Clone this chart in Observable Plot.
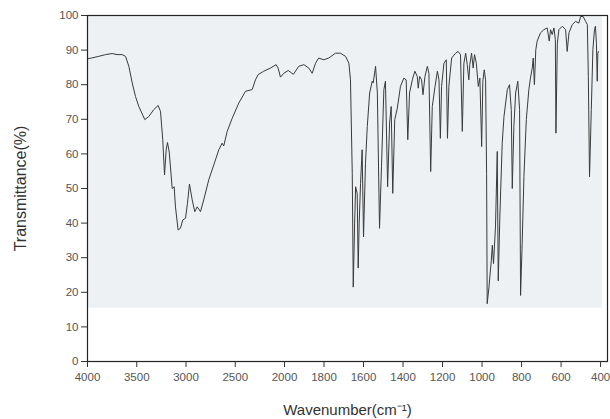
<!DOCTYPE html>
<html><head><meta charset="utf-8">
<script src="https://cdn.jsdelivr.net/npm/d3@7"></script>
<script src="https://cdn.jsdelivr.net/npm/@observablehq/plot@0.6"></script>
<style>body{margin:0;background:#fff;}</style>
</head><body><div id="chart"></div>
<script>
const wavenumbers = [4000,3960,3885,3817,3750,3700,3648,3614,3580,3546,3513,3479,3418,3378,3327,3283,3259,3236,3218,3201,3188,3170,3140,3120,3107,3080,3056,3033,3005,2985,2965,2937,2911,2887,2853,2820,2769,2718,2667,2633,2617,2582,2531,2464,2396,2328,2295,2268,2211,2143,2085,2065,2041,2007,1981,1955,1928,1902,1877,1860,1843,1827,1801,1776,1742,1717,1691,1674,1666,1657,1652,1645,1640,1632,1627,1622,1615,1607,1600,1590,1581,1569,1556,1551,1539,1530,1525,1519,1509,1497,1489,1478,1468,1460,1452,1442,1429,1413,1396,1384,1376,1367,1353,1340,1328,1323,1316,1306,1299,1289,1277,1269,1260,1252,1238,1226,1218,1211,1205,1193,1181,1175,1168,1154,1134,1121,1109,1100,1092,1083,1075,1067,1062,1053,1045,1038,1029,1019,1011,1002,996,989,982,977,974,965,953,948,942,932,923,918,910,898,889,872,861,852,847,839,830,819,810,805,797,788,776,763,755,746,741,735,728,721,704,687,670,660,653,645,636,629,626,619,611,594,577,569,560,543,527,510,501,488,476,467,462,456,447,439,431,426,421,417,414,411];
const transmittance = [87.5,87.7,88.2,88.7,89.0,88.7,88.7,88.2,85.3,80.5,76.6,73.7,69.9,70.8,72.8,74.0,72.3,64.1,53.9,61.2,63.3,60.5,50.0,50.5,44.7,38.0,38.5,40.9,41.4,45.7,51.3,46.7,43.3,44.7,43.3,46.7,52.5,56.8,61.2,63.1,62.3,66.5,70.3,74.7,78.1,78.6,81.4,82.9,83.9,84.8,85.8,84.8,82.2,83.3,84.1,83.0,85.3,85.8,84.8,83.3,86.2,87.7,87.2,87.7,89.1,89.1,88.2,86.2,81.4,54.4,21.5,40.0,50.5,48.6,27.0,40.0,51.5,61.2,36.0,57.3,67.9,77.6,81.0,80.5,85.3,77.6,59.7,38.5,56.3,78.6,81.0,50.5,68.9,73.7,48.6,69.9,73.2,79.5,81.9,81.4,64.1,77.6,81.4,83.9,82.4,79.0,82.4,81.4,77.1,82.4,85.3,83.3,54.9,73.7,79.5,83.9,81.4,64.5,79.5,86.2,87.2,64.5,79.5,87.7,89.1,89.6,88.7,66.5,86.2,89.1,85.8,81.4,85.8,89.1,84.8,88.7,86.2,79.5,81.9,62.1,81.0,84.3,81.4,54.4,16.7,21.5,29.3,33.6,28.3,38.9,60.7,23.3,41.8,63.1,70.8,78.6,80.0,72.8,50.0,67.9,77.6,81.0,72.8,19.1,34.1,53.4,69.9,78.6,81.9,84.8,87.7,80.0,90.1,92.6,95.0,95.9,96.4,92.6,95.9,94.5,96.4,93.0,66.0,92.0,95.9,96.9,95.9,89.6,95.0,97.4,98.3,97.8,99.7,99.7,98.3,97.4,82.4,53.4,72.8,90.1,95.9,96.9,92.0,81.0,89.1,89.6];
const xTicks = [4000,3500,3000,2500,2000,1800,1600,1400,1200,1000,800,600,400];
const yTicks = [0,10,20,30,40,50,60,70,80,90,100];
const paperShade = [{x1: 4000, x2: 390, y1: 15.4, y2: 100}];
const xLabel = "Wavenumber(cm⁻¹)";
const yLabel = "Transmittance(%)";

const spectrum = wavenumbers.map((w, i) => ({w, t: transmittance[i]}));

const chart = Plot.plot({
  width: 610, height: 419,
  marginTop: 15, marginLeft: 87, marginRight: 3, marginBottom: 58,
  style: {fontFamily: "'Liberation Sans', Arial, sans-serif", fontSize: "11px", color: "#444", background: "#fff"},
  x: {type: "linear", domain: [4000, 2000, 365], range: [87, 284, 607]},
  y: {domain: [0, 100], range: [361, 15]},
  marks: [
    Plot.rect(paperShade, {x1: "x1", x2: "x2", y1: "y1", y2: "y2", fill: "#edf1f4"}),
    Plot.line(spectrum, {x: "w", y: "t", stroke: "#3a3a3a", strokeWidth: 1}),
    Plot.frame({stroke: "#222", strokeWidth: 1.2}),
    Plot.axisX({ticks: xTicks, tickFormat: d => String(d), tickSize: 6, tickPadding: 5, label: null, stroke: "#333", fill: "#555", fontSize: 11.5}),
    Plot.axisY({ticks: yTicks, tickFormat: d => String(d), tickSize: 6, tickPadding: 3, label: null, stroke: "#333", fill: "#555", fontSize: 11.5}),
    Plot.text([xLabel], {frameAnchor: "bottom", dy: 49, lineAnchor: "middle", textAnchor: "middle", fontSize: 15, fill: "#333"}),
    Plot.text([yLabel], {frameAnchor: "left", dx: -67, rotate: -90, lineAnchor: "middle", textAnchor: "middle", fontSize: 16, fill: "#333"})
  ]
});
document.getElementById("chart").appendChild(chart);
</script>
</body></html>
